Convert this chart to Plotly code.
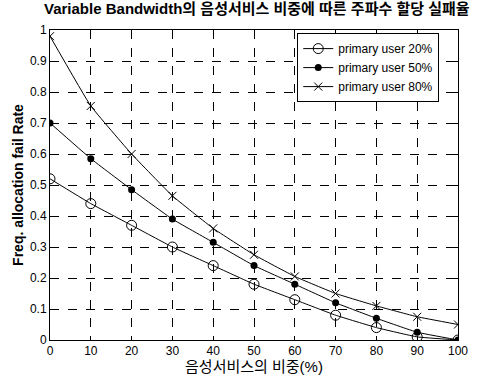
import plotly.graph_objects as go

x_vals = [0, 10, 20, 30, 40, 50, 60, 70, 80, 90, 100]
pu20 = [0.52, 0.44, 0.37, 0.30, 0.24, 0.18, 0.13, 0.08, 0.04, 0.01, 0.0]
pu50 = [0.70, 0.585, 0.485, 0.39, 0.315, 0.24, 0.18, 0.12, 0.07, 0.025, 0.0]
pu80 = [0.98, 0.755, 0.60, 0.465, 0.36, 0.275, 0.205, 0.15, 0.11, 0.075, 0.05]
names = ["primary user 20%", "primary user 50%", "primary user 80%"]
x_ticks = [0, 10, 20, 30, 40, 50, 60, 70, 80, 90, 100]
y_ticks = [0, 0.1, 0.2, 0.3, 0.4, 0.5, 0.6, 0.7, 0.8, 0.9, 1]
y_labels = ["0", "0.1", "0.2", "0.3", "0.4", "0.5", "0.6", "0.7", "0.8", "0.9", "1"]

FONT = "Liberation Sans, Arial, Noto Sans CJK KR, sans-serif"

fig = go.Figure()
markers = [
    dict(symbol="circle-open", size=10, color="black", line=dict(width=1)),
    dict(symbol="circle", size=7, color="black"),
    dict(symbol="x-thin-open", size=8, color="black", line=dict(width=1, color="black")),
]
for name, ys, mk in zip(names, [pu20, pu50, pu80], markers):
    fig.add_trace(go.Scatter(
        x=x_vals, y=ys, name=name, mode="lines+markers",
        line=dict(color="black", width=1, shape="spline", smoothing=0.3),
        marker=mk,
    ))

axis_common = dict(
    showline=True, linecolor="black", linewidth=1, mirror="ticks",
    ticks="inside", ticklen=4, tickcolor="black",
    showgrid=True, gridcolor="black", gridwidth=1, griddash="dash",
    zeroline=False, tickfont=dict(family=FONT, size=12, color="black"),
)

fig.update_layout(
    width=480, height=385,
    margin=dict(l=50, r=14, t=30, b=38),
    paper_bgcolor="white", plot_bgcolor="white",
    font=dict(family=FONT, color="black"),
    title=dict(text="<b>Variable Bandwidth의 음성서비스 비중에 따른 주파수 할당 실패율</b>",
               x=0.535, xanchor="center", y=0.99, yanchor="top",
               font=dict(family=FONT, size=15, color="black")),
    xaxis=dict(range=[0, 100], tickvals=x_ticks,
               title=dict(text="음성서비스의 비중(%)", standoff=4,
                          font=dict(family=FONT, size=15)),
               **axis_common),
    yaxis=dict(range=[0, 1], tickvals=y_ticks, ticktext=y_labels,
               title=dict(text="<b>Freq. allocation fail Rate</b>", standoff=3,
                          font=dict(family=FONT, size=14)),
               **axis_common),
    legend=dict(x=0.606, y=0.99, xanchor="left", yanchor="top",
                bgcolor="white", bordercolor="black", borderwidth=1,
                font=dict(family=FONT, size=12, color="black"),
                itemwidth=30, tracegroupgap=0),
    showlegend=True,
)

fig.write_html("out.html")
